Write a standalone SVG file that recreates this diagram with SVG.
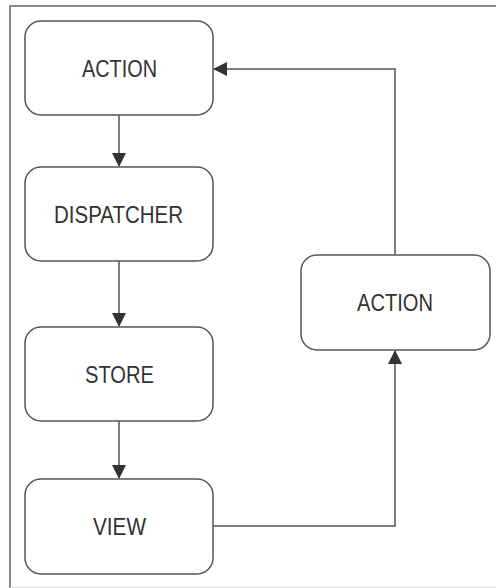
<svg xmlns="http://www.w3.org/2000/svg" width="496" height="588" viewBox="0 0 496 588">
<style>
.box{fill:#fff;stroke:#555;stroke-width:1.5}
.lbl{font-family:"Liberation Sans",Arial,sans-serif;font-size:24px;fill:#333;text-anchor:middle}
.conn{fill:none;stroke:#555;stroke-width:1.5}
</style>
<defs>
<marker id="ah" markerUnits="userSpaceOnUse" markerWidth="14" markerHeight="14" viewBox="0 0 14 14" refX="13" refY="7" orient="auto">
<path d="M0,0 L14,7 L0,14 Z" fill="#333"/>
</marker>
</defs>
<rect x="0" y="0" width="496" height="588" fill="#fff"/>
<g id="frame">
<path d="M10,588 V6 H496" fill="none" stroke="#666" stroke-width="1.5"/>
<line x1="10" y1="587.5" x2="496" y2="587.5" stroke="#ddd" stroke-width="1"/>
</g>
<g id="connectors">
<line class="conn" x1="119" y1="115" x2="119" y2="166" marker-end="url(#ah)"/>
<line class="conn" x1="119" y1="261" x2="119" y2="326" marker-end="url(#ah)"/>
<line class="conn" x1="119" y1="421" x2="119" y2="478" marker-end="url(#ah)"/>
<path class="conn" d="M213,526 H395 V351" marker-end="url(#ah)"/>
<path class="conn" d="M395,255 V69 H214" marker-end="url(#ah)"/>
</g>
<g id="action1">
<rect class="box" x="25" y="21" width="188" height="94" rx="16"/>
<text class="lbl" x="119.5" y="77" textLength="75" lengthAdjust="spacingAndGlyphs">ACTION</text>
</g>
<g id="dispatcher">
<rect class="box" x="25" y="167" width="188" height="94" rx="16"/>
<text class="lbl" x="118.5" y="223" textLength="129" lengthAdjust="spacingAndGlyphs">DISPATCHER</text>
</g>
<g id="store">
<rect class="box" x="25" y="327" width="188" height="94" rx="16"/>
<text class="lbl" x="119.5" y="383" textLength="69" lengthAdjust="spacingAndGlyphs">STORE</text>
</g>
<g id="view">
<rect class="box" x="25" y="479" width="188" height="95" rx="16"/>
<text class="lbl" x="119.5" y="535" textLength="53" lengthAdjust="spacingAndGlyphs">VIEW</text>
</g>
<g id="action2">
<rect class="box" x="301" y="255" width="189" height="95" rx="16"/>
<text class="lbl" x="395" y="311" textLength="76" lengthAdjust="spacingAndGlyphs">ACTION</text>
</g>
</svg>
